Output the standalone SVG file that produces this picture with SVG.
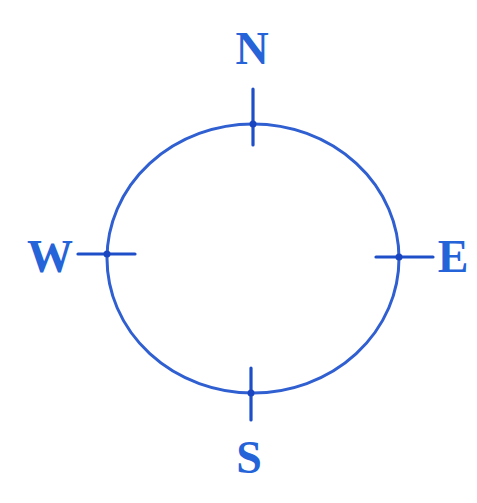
<svg xmlns="http://www.w3.org/2000/svg" width="477" height="503" viewBox="0 0 477 503">
<style>
.ln{fill:none;stroke:#2f5fd0;stroke-width:3;stroke-linecap:round}
.tk{fill:none;stroke:#1e4fc8;stroke-width:3.2;stroke-linecap:round}
.lb{font-family:"Liberation Serif","DejaVu Serif",serif;font-weight:bold;font-size:46px;fill:#2563d8;text-anchor:middle}
.dt{fill:#1a45c0}
</style>
<rect width="477" height="503" fill="#ffffff"/>
<g id="circle">
<ellipse class="ln" cx="253" cy="258.5" rx="146" ry="134.5"/>
</g>
<g id="north">
<line class="tk" x1="253" y1="89" x2="253" y2="145"/>
<circle class="dt" cx="253" cy="124" r="3.5"/>
<text class="lb" x="252" y="64">N</text>
</g>
<g id="west">
<line class="tk" x1="78" y1="254" x2="135" y2="254"/>
<circle class="dt" cx="107" cy="254" r="3.5"/>
<text class="lb" x="50" y="272">W</text>
</g>
<g id="east">
<line class="tk" x1="376" y1="257" x2="433" y2="257"/>
<circle class="dt" cx="399" cy="257" r="3.5"/>
<text class="lb" x="453" y="272">E</text>
</g>
<g id="south">
<line class="tk" x1="251" y1="368" x2="251" y2="420"/>
<circle class="dt" cx="251" cy="393" r="3.5"/>
<text class="lb" x="249" y="473">S</text>
</g>
<g id="connectors"></g>
</svg>
